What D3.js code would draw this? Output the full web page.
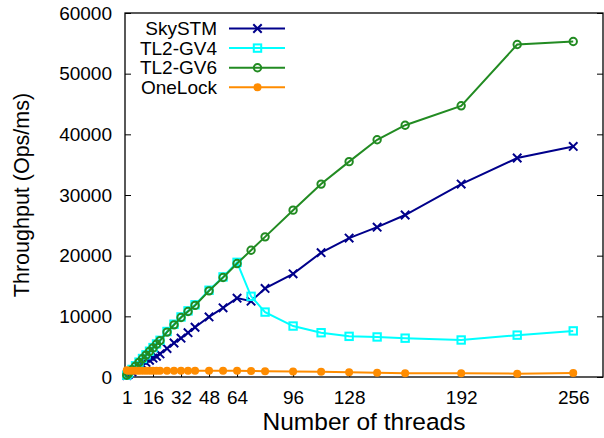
<!DOCTYPE html>
<html>
<head>
<meta charset="utf-8">
<script src="https://cdn.jsdelivr.net/npm/d3@7"></script>
<style>
  html, body { margin: 0; padding: 0; background: #fff; }
  svg { display: block; font-family: "Liberation Sans", Arial, sans-serif; }
</style>
</head>
<body>
<div id="chart"></div>
<script>
// ---- data ----
const threads = [1, 2, 4, 6, 8, 10, 12, 14, 16, 18, 20, 24, 28, 32, 36, 40, 48, 56, 64, 72, 80, 96, 112, 128, 144, 160, 192, 224, 256];

const skystm = [250, 450, 850, 1250, 1650, 2000, 2400, 2750, 3100, 3400, 3800, 4700, 5600, 6400, 7300, 8200, 9900, 11400, 13000, 12500, 14600, 17000, 20500, 22900, 24700, 26700, 31800, 36100, 38000];
const tl2gv4 = [300, 650, 1250, 1850, 2450, 3050, 3650, 4250, 4850, 5450, 6050, 7500, 8700, 9900, 10900, 11900, 14300, 16500, 18900, 13300, 10700, 8400, 7300, 6700, 6600, 6400, 6100, 6900, 7600];
const tl2gv6 = [300, 600, 1200, 1800, 2400, 3000, 3600, 4200, 4800, 5400, 6000, 7400, 8600, 9800, 10800, 11800, 14200, 16400, 18700, 20900, 23100, 27500, 31800, 35500, 39100, 41500, 44700, 54800, 55300];
const onelock = [1100, 1050, 1050, 1050, 1050, 1050, 1050, 1050, 1050, 1050, 1050, 1050, 1050, 1050, 1050, 1050, 1050, 1050, 1050, 1000, 950, 900, 850, 800, 700, 600, 600, 550, 650];

const xTicks = [1, 16, 32, 48, 64, 96, 128, 192, 256];
const yTicks = [0, 10000, 20000, 30000, 40000, 50000, 60000];

const COLOR = {
  skystm: "#00008b",
  gv4: "#00ffff",
  gv6: "#228b22",
  onelock: "#ff8c00",
  axis: "#000",
};

const series = [
  { name: "SkySTM", values: skystm, color: COLOR.skystm, marker: "cross" },
  { name: "TL2-GV4", values: tl2gv4, color: COLOR.gv4, marker: "square" },
  { name: "TL2-GV6", values: tl2gv6, color: COLOR.gv6, marker: "circle" },
  { name: "OneLock", values: onelock, color: COLOR.onelock, marker: "dot" },
];

// ---- 1. dimensions ----
const width = 604;
const height = 438;
const plot = { left: 125, right: 603, top: 13, bottom: 377 };

// ---- 2. scales ----
const x = d3.scaleLinear().domain([0, 273]).range([plot.left, plot.right]);
const y = d3.scaleLinear().domain([0, 60000]).range([plot.bottom, plot.top]);

const svg = d3.select("#chart")
  .append("svg")
  .attr("width", width)
  .attr("height", height);

// ---- 3. axes: inward ticks, mirrored on the right ----
const fontSize = 19;

svg.append("g")
  .attr("transform", `translate(0,${plot.bottom})`)
  .call(d3.axisBottom(x).tickValues(xTicks).tickSizeInner(-6).tickSizeOuter(0).tickPadding(14))
  .call((g) => g.select(".domain").remove())
  .call((g) => g.selectAll("text").attr("font-size", fontSize).attr("font-family", null).attr("fill", "#000"));

svg.append("g")
  .attr("transform", `translate(${plot.left},0)`)
  .call(d3.axisLeft(y).tickValues(yTicks).tickFormat(d3.format("d")).tickSizeInner(-6).tickSizeOuter(0).tickPadding(13))
  .call((g) => g.select(".domain").remove())
  .call((g) => g.selectAll("text").attr("font-size", fontSize).attr("font-family", null).attr("fill", "#000"));

svg.append("g")
  .attr("transform", `translate(${plot.right},0)`)
  .call(d3.axisRight(y).tickValues(yTicks).tickSizeInner(-6).tickSizeOuter(0).tickFormat(""))
  .call((g) => g.select(".domain").remove());

// border
svg.append("rect")
  .attr("x", plot.left)
  .attr("y", plot.top)
  .attr("width", plot.right - plot.left)
  .attr("height", plot.bottom - plot.top)
  .attr("fill", "none")
  .attr("stroke", COLOR.axis)
  .attr("stroke-width", 1.3);

svg.append("text")
  .attr("x", (plot.left + plot.right) / 2)
  .attr("y", 430)
  .attr("text-anchor", "middle")
  .attr("font-size", 24.5)
  .text("Number of threads");

svg.append("text")
  .attr("transform", `translate(29,${(plot.top + plot.bottom) / 2}) rotate(-90)`)
  .attr("text-anchor", "middle")
  .attr("font-size", 21.5)
  .text("Throughput (Ops/ms)");

// ---- 4. markers ----
function drawMarker(g, kind, color, cx, cy) {
  if (kind === "cross") {
    const r = 4.2;
    g.append("path")
      .attr("d", `M${cx - r},${cy - r}L${cx + r},${cy + r}M${cx - r},${cy + r}L${cx + r},${cy - r}`)
      .attr("stroke", color).attr("stroke-width", 2).attr("fill", "none");
  } else if (kind === "square") {
    const r = 3.7;
    g.append("rect")
      .attr("x", cx - r).attr("y", cy - r).attr("width", 2 * r).attr("height", 2 * r)
      .attr("stroke", color).attr("stroke-width", 2).attr("fill", "none");
  } else if (kind === "circle") {
    g.append("circle")
      .attr("cx", cx).attr("cy", cy).attr("r", 3.7)
      .attr("stroke", color).attr("stroke-width", 2).attr("fill", "none");
  } else {
    g.append("circle")
      .attr("cx", cx).attr("cy", cy).attr("r", 4)
      .attr("fill", color);
  }
}

// ---- 5. series lines + points ----
const line = d3.line()
  .x((d) => x(d[0]))
  .y((d) => y(d[1]));

series.forEach((s) => {
  const pts = threads.map((t, i) => [t, s.values[i]]);
  const g = svg.append("g");
  g.append("path")
    .datum(pts)
    .attr("d", line)
    .attr("fill", "none")
    .attr("stroke", s.color)
    .attr("stroke-width", 2);
  pts.forEach((p) => drawMarker(g, s.marker, s.color, x(p[0]), y(p[1])));
});

// ---- 6. legend, top left ----
const legend = svg.append("g");
series.forEach((s, i) => {
  const ly = 28.5 + i * 19.6;
  legend.append("text")
    .attr("x", 217)
    .attr("y", ly)
    .attr("dy", "0.35em")
    .attr("text-anchor", "end")
    .attr("font-size", fontSize)
    .text(s.name);
  legend.append("line")
    .attr("x1", 229).attr("x2", 285)
    .attr("y1", ly).attr("y2", ly)
    .attr("stroke", s.color)
    .attr("stroke-width", 2);
  drawMarker(legend, s.marker, s.color, 257.5, ly);
});
</script>
</body>
</html>
